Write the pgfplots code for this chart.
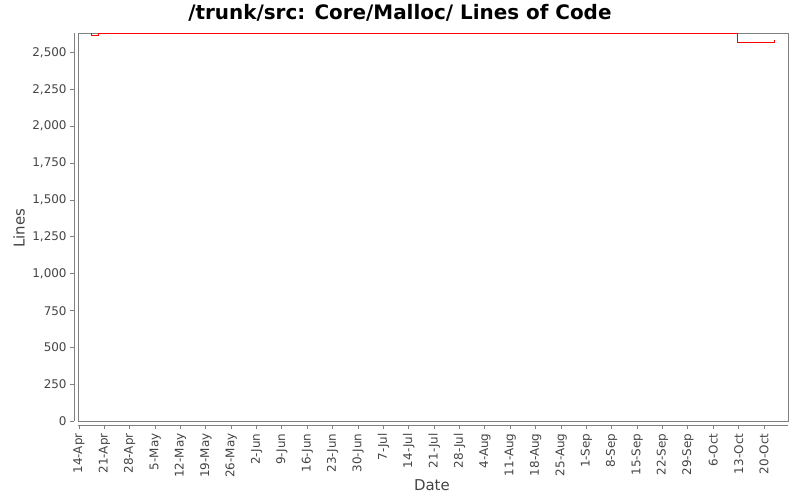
\documentclass[border=0pt]{standalone}
\usepackage{pgfplots}
\pgfplotsset{compat=1.18}
\usepackage{fontspec}
\setmainfont{DejaVu Sans}
\definecolor{framegray}{RGB}{128,128,128}
\definecolor{labelgray}{RGB}{68,68,68}
\begin{document}
\begin{tikzpicture}
\useasboundingbox (0,0) rectangle (800bp,500bp);
\begin{axis}[
    name=ax,
    at={(78.3bp,78.7bp)}, anchor=south west,
    scale only axis, width=710bp, height=388bp,
    xmin=-0.2, xmax=195.7,
    ymin=0, ymax=2630,
    clip=false,
    axis lines*=left,
    axis x line shift=4bp,
    axis y line shift=4bp,
    axis line style={framegray, line width=1bp, -},
    axis background/.style={draw=framegray, line width=1bp},
    tick align=outside,
    major tick length=4bp,
    every tick/.style={framegray, line width=1bp},
    xtick={0,7,...,189},
    xticklabels={14-Apr,21-Apr,28-Apr,5-May,12-May,19-May,26-May,2-Jun,9-Jun,16-Jun,23-Jun,30-Jun,7-Jul,14-Jul,21-Jul,28-Jul,4-Aug,11-Aug,18-Aug,25-Aug,1-Sep,8-Sep,15-Sep,22-Sep,29-Sep,6-Oct,13-Oct,20-Oct},
    ytick={0,250,...,2500},
    scaled y ticks=false,
    /pgf/number format/.cd, 1000 sep={,}, assume math mode=true,
    /pgfplots/.cd,
    xticklabel shift=4bp,
    yticklabel shift=3.5bp,
    xticklabel style={rotate=90, anchor=east, inner sep=0pt, text=labelgray, font=\fontsize{12}{13}\selectfont},
    yticklabel style={anchor=east, inner sep=0pt, text=labelgray, font=\fontsize{12}{13}\selectfont},
    every axis title shift=0pt,
    title={/trunk/src: Core/Malloc/ Lines of Code},
    title style={at={(axis description cs:0.453,1.0523)}, anchor=center, font=\bfseries\fontsize{20}{22}\selectfont},
    xlabel={Date},
    xlabel style={at={(axis description cs:0.498,-0.164)}, anchor=center, text=labelgray, font=\fontsize{15}{17}\selectfont},
    ylabel={Lines},
    ylabel style={at={(axis description cs:-0.0835,0.498)}, anchor=center, rotate=0, text=labelgray, font=\fontsize{15}{17}\selectfont},
]
\addplot[red, line width=1bp, mark=none] coordinates {
    (3.4,2629) (3.4,2615) (5.3,2615) (5.3,2629)
    (181.6,2629) (181.6,2569) (192.0,2569) (192.0,2584)
};
\end{axis}
\end{tikzpicture}
\end{document}
